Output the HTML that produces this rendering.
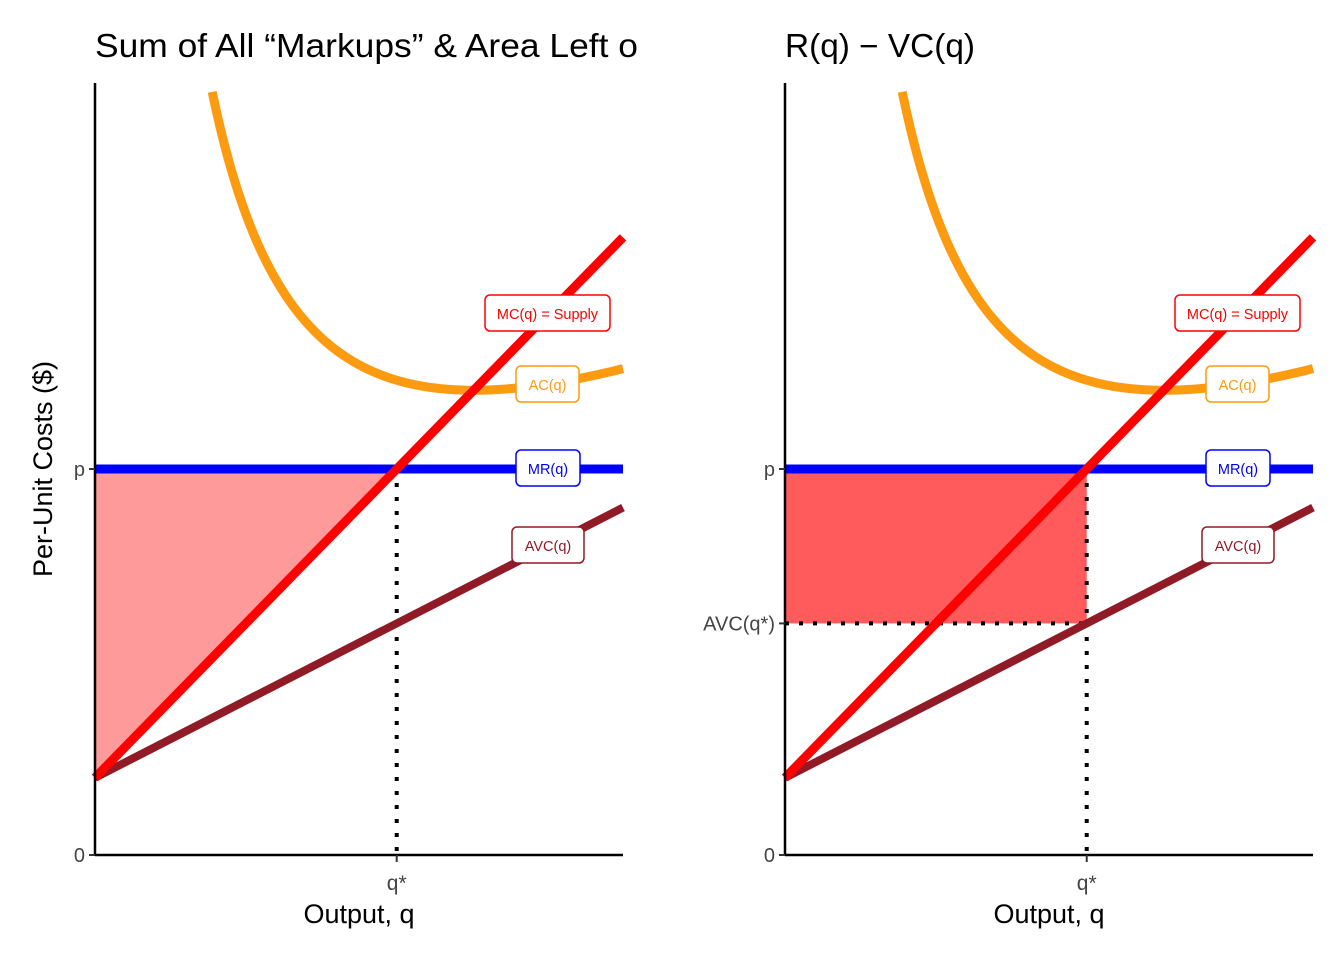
<!DOCTYPE html>
<html><head><meta charset="utf-8"><style>
body{margin:0;background:#fff;}
svg text{font-family:"Liberation Sans",sans-serif;}
</style></head><body>
<svg id="chart" width="1344" height="960" xmlns="http://www.w3.org/2000/svg"></svg>
<script>
const qDomain=[0,10];
const yDomain=[0,20];
const mcIntercept=2, mcSlope=1.4;
const avcIntercept=2, avcSlope=0.7;
const fixedCost=36;
const price=10;
const labels=["MC(q) = Supply","AC(q)","MR(q)","AVC(q)"];
const titles=["Sum of All \u201cMarkups\u201d & Area Left o","R(q) \u2212 VC(q)"];

const NS="http://www.w3.org/2000/svg";
const svg=document.getElementById('chart');
function el(tag,attrs,parent){const e=document.createElementNS(NS,tag);for(const k in attrs)e.setAttribute(k,attrs[k]);(parent||svg).appendChild(e);return e;}
const mc=q=>mcIntercept+mcSlope*q;
const avc=q=>avcIntercept+avcSlope*q;
const ac=q=>avc(q)+fixedCost/q;
const qStar=(price-mcIntercept)/mcSlope;

function panel(ox,idx){
  const x0=ox,x1=ox+528,yB=855,yT=83;
  const X=q=>x0+(q-qDomain[0])/(qDomain[1]-qDomain[0])*(x1-x0);
  const Y=v=>yB-(v-yDomain[0])/(yDomain[1]-yDomain[0])*(yB-yT);
  const g=el('g',{});
  
  
  let f;
  if(idx===0){
    f=el('polygon',{points:`${X(0)},${Y(price)} ${X(qStar)},${Y(price)} ${X(0)},${Y(mc(0))}`,fill:'#ff9a9a'},g);
  } else {
    f=el('rect',{x:X(0),y:Y(price),width:X(qStar)-X(0),height:Y(avc(qStar))-Y(price),fill:'#ff5a5c'},g);
  }
  
  
  let d=el('line',{x1:X(qStar),y1:Y(price),x2:X(qStar),y2:yB,stroke:'#000','stroke-width':4,'stroke-dasharray':'4 10'},g);
  
  
  if(idx===1){
    d=el('line',{x1:X(0),y1:Y(avc(qStar)),x2:X(qStar),y2:Y(avc(qStar)),stroke:'#000','stroke-width':4,'stroke-dasharray':'4 10'},g);
    
    
  }
  let l=el('line',{x1:X(0),y1:Y(avc(0)),x2:X(10),y2:Y(avc(10)),stroke:'#901a25','stroke-width':8},g);
  
  
  l=el('line',{x1:X(0),y1:Y(price),x2:X(10),y2:Y(price),stroke:'#0000ff','stroke-width':9},g);
  
  
  let pts=[];
  for(let q=0.5;q<=10.0001;q+=0.02){const v=ac(q);if(v<=19.8)pts.push(X(q)+','+Y(v));}
  l=el('polyline',{points:pts.join(' '),fill:'none',stroke:'#fc9a10','stroke-width':9},g);
  
  
  l=el('line',{x1:X(0),y1:Y(mc(0)),x2:X(10),y2:Y(mc(10)),stroke:'#ff0000','stroke-width':9},g);
  
  
  l=el('line',{x1:x0,y1:yT,x2:x0,y2:yB+1,stroke:'#000','stroke-width':2.5},g);
  
  
  l=el('line',{x1:x0,y1:yB,x2:x1,y2:yB,stroke:'#000','stroke-width':2.5},g);
  
  
  const yt=[[0,'0'],[price,'p']];
  if(idx===1)yt.push([avc(qStar),'AVC(q*)']);
  yt.forEach(([v,t])=>{
    el('line',{x1:x0-6,y1:Y(v),x2:x0,y2:Y(v),stroke:'#333','stroke-width':2},g);
    const tx=el('text',{x:x0-10,y:Y(v)+7,'font-size':20,fill:'#444','text-anchor':'end'},g);
    tx.textContent=t;
    
    
  });
  el('line',{x1:X(qStar),y1:yB,x2:X(qStar),y2:yB+7,stroke:'#333','stroke-width':2},g);
  let tx=el('text',{x:X(qStar),y:890,'font-size':21,fill:'#444','text-anchor':'middle'},g);
  tx.textContent='q*';
  
  
  tx=el('text',{x:(x0+x1)/2,y:923,'font-size':27,fill:'#000','text-anchor':'middle'},g);
  tx.textContent='Output, q';
  
  
  tx=el('text',{x:x0,y:57,'font-size':33,fill:'#000'},g);
  tx.textContent=titles[idx];
  if(idx===0)tx.setAttribute('textLength',543);
  else tx.setAttribute('textLength',190);
  tx.setAttribute('lengthAdjust','spacingAndGlyphs');
  
  
  const boxes=[[485,295,125,'#ff0000'],[516,366,63,'#fc9a10'],[516,450,64,'#0000ff'],[512,527,72,'#901a25']];
  boxes.forEach((b,i)=>{
    const bx=b[0]-95+ox;
    const r=el('rect',{x:bx,y:b[1],width:b[2],height:36,rx:5,fill:'#fff',stroke:b[3],'stroke-width':1.5},g);
    
    
    const t=el('text',{x:bx+b[2]/2,y:b[1]+24,'font-size':14.5,fill:b[3],'text-anchor':'middle'},g);
    t.textContent=labels[i];
    
    
  });
}
panel(95,0);
panel(785,1);
const yt=el('text',{x:0,y:0,'font-size':27,fill:'#000','text-anchor':'middle',transform:'translate(52,469) rotate(-90)'});
yt.textContent='Per-Unit Costs ($)';


</script>
</body></html>
